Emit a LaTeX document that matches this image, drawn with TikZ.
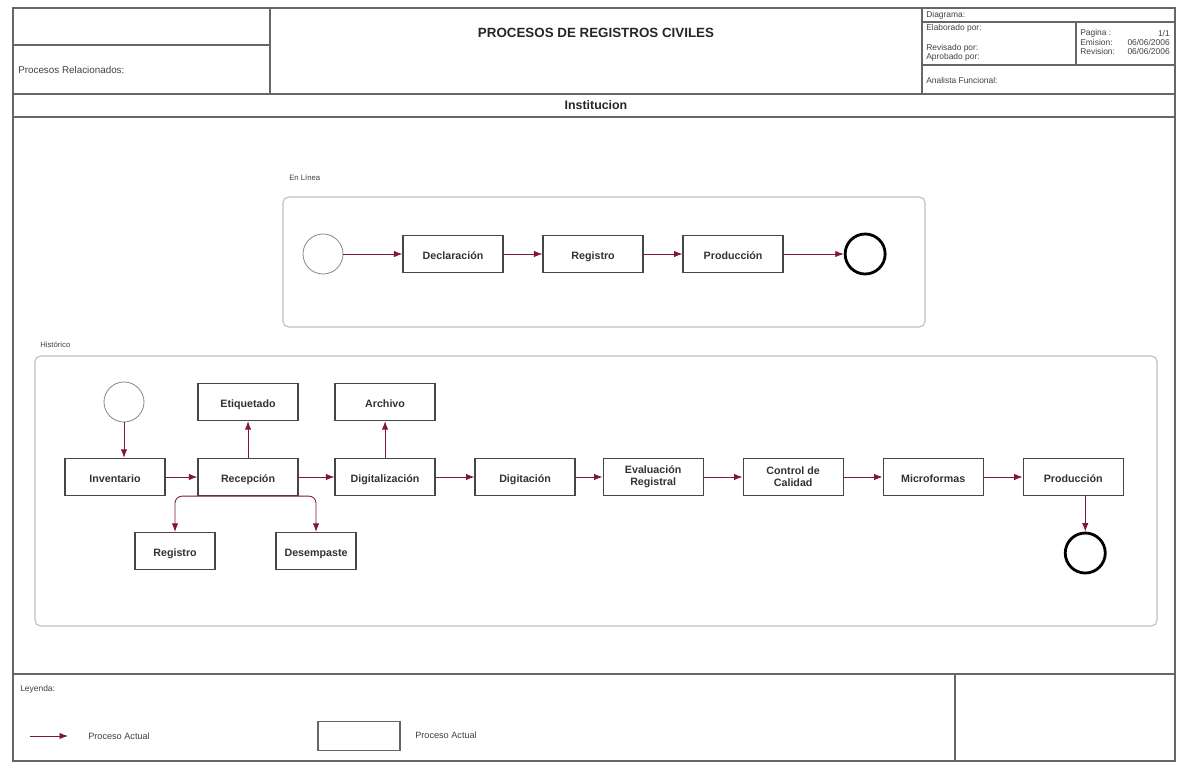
\documentclass[tikz,border=0pt]{standalone}
\usepackage{fontspec}
\setmainfont{Liberation Sans}
\usetikzlibrary{shapes.geometric, arrows, arrows.meta}
\definecolor{flowred}{RGB}{128,24,52}
\definecolor{boxgray}{RGB}{70,70,70}
\tikzstyle{process2} = [rectangle, minimum width=2.5cm, minimum height=0.925cm, text centered, align=center, draw=boxgray, line width=0.9pt, fill=white, font=\fontsize{7.6}{8.6}\selectfont\bfseries, text=black!80]
\tikzstyle{process} = [process2, text height=1.6ex, text depth=0.22ex]
\tikzstyle{startevent} = [circle, minimum size=1cm, draw=black!45, line width=0.6pt, fill=white]
\tikzstyle{endevent} = [circle, minimum size=1cm, draw=black, line width=2pt, fill=white]
\tikzstyle{lane} = [rounded corners=4pt, draw=black!25, line width=0.8pt]
\tikzstyle{frameline} = [draw=black!60, line width=0.9pt]
\tikzstyle{smalltext} = [font=\fontsize{6}{7}\selectfont, text=black!75, inner sep=0pt]
\tikzstyle{headtitle} = [font=\fontsize{9.5}{11}\selectfont\bfseries, text=black!85, inner sep=0pt]
\tikzstyle{arrow} = [-{Latex[length=6pt,width=4.5pt]}, draw=flowred, line width=0.6pt]

\begin{document}
\begin{tikzpicture}[x=0.025cm, y=-0.025cm, node distance=3.5cm]
\useasboundingbox (0,0) rectangle (1177,763);
% frame
\draw[frameline] (13,8) rectangle (1175,761);
\draw[frameline] (13,45) -- (270,45);
\draw[frameline] (270,8) -- (270,94);
\draw[frameline] (922,8) -- (922,94);
\draw[frameline] (922,22) -- (1175,22);
\draw[frameline] (922,65) -- (1175,65);
\draw[frameline] (1076,22) -- (1076,65);
\draw[frameline] (13,94) -- (1175,94);
\draw[frameline] (13,117) -- (1175,117);
\draw[frameline] (13,674) -- (1175,674);
\draw[frameline] (955,674) -- (955,761);
% header texts
\node (title) [headtitle] at (596,33) {PROCESOS DE REGISTROS CIVILES};
\node (inst) [headtitle, font=\fontsize{8.8}{10}\selectfont\bfseries] at (596,105) {Institucion};
\node (rel) [smalltext, font=\fontsize{7}{8}\selectfont, anchor=west] at (18,70) {Procesos Relacionados:};
\node (diag) [smalltext, anchor=west] at (926,15) {Diagrama:};
\node (elab) [smalltext, anchor=west] at (926,28) {Elaborado por:};
\node (rev) [smalltext, anchor=west] at (926,48) {Revisado por:};
\node (apr) [smalltext, anchor=west] at (926,57) {Aprobado por:};
\node (pag) [smalltext, anchor=west] at (1080,33) {Pagina :};
\node (emi) [smalltext, anchor=west] at (1080,42) {Emision:};
\node (rvs) [smalltext, anchor=west] at (1080,51) {Revision:};
\node (pagv) [smalltext, anchor=east] at (1170,33) {1/1};
\node (emiv) [smalltext, anchor=east] at (1170,42) {06/06/2006};
\node (rvsv) [smalltext, anchor=east] at (1170,51) {06/06/2006};
\node (ana) [smalltext, anchor=west] at (926,80) {Analista Funcional:};

% lanes
\node (lbl1) [smalltext, font=\fontsize{5.5}{6}\selectfont, anchor=west] at (289,178) {En Línea};
\draw[lane] (283,197) rectangle (925,327);
\node (lbl2) [smalltext, font=\fontsize{5.5}{6}\selectfont, anchor=west] at (40,345) {Histórico};
\draw[lane] (35,356) rectangle (1157,626);

% en linea
\node (s1) [startevent] at (323,254) {};
\node (decl) [process, right of=s1, xshift=-0.25cm] {Declaración};
\node (reg1) [process, right of=decl] {Registro};
\node (prod1) [process, right of=reg1] {Producción};
\node (e1) [endevent, right of=prod1, xshift=-0.2cm] {};
\draw [arrow] (s1) -- (decl);
\draw [arrow] (decl) -- (reg1);
\draw [arrow] (reg1) -- (prod1);
\draw [arrow] (prod1) -- (e1);

% historico
\node (inv) [process] at (115,477) {Inventario};
\node (s2) [startevent, above of=inv, yshift=-1.625cm, xshift=0.225cm] {};
\node (rec) [process, right of=inv, xshift=-0.175cm] {Recepción};
\node (etiq) [process, above of=rec, yshift=-1.625cm] {Etiquetado};
\node (reg2) [process, below of=rec, yshift=1.65cm, xshift=-1.825cm, minimum width=2cm] {Registro};
\node (desemp) [process, below of=rec, yshift=1.65cm, xshift=1.7cm, minimum width=2cm] {Desempaste};
\node (dig) [process, right of=rec, xshift=-0.075cm] {Digitalización};
\node (arch) [process, above of=dig, yshift=-1.625cm] {Archivo};
\node (digt) [process, right of=dig] {Digitación};
\node (eval) [process2, right of=digt, xshift=-0.3cm] {Evaluación\\Registral};
\node (ctrl) [process2, right of=eval] {Control de\\Calidad};
\node (micro) [process, right of=ctrl] {Microformas};
\node (prod2) [process, right of=micro] {Producción};
\node (e2) [endevent, below of=prod2, yshift=1.6cm, xshift=0.3cm] {};
\draw [arrow] (s2) -- (s2 |- inv.north);
\draw [arrow] (inv) -- (rec);
\draw [arrow] (rec) -- (etiq);
\draw [arrow, rounded corners=5pt] (rec.south) -| (reg2.north);
\draw [arrow, rounded corners=5pt] (rec.south) -| (desemp.north);
\draw [arrow] (rec) -- (dig);
\draw [arrow] (dig) -- (arch);
\draw [arrow] (dig) -- (digt);
\draw [arrow] (digt) -- (eval);
\draw [arrow] (eval) -- (ctrl);
\draw [arrow] (ctrl) -- (micro);
\draw [arrow] (micro) -- (prod2);
\draw [arrow] (prod2.south -| e2) -- (e2);

% leyenda
\node (ley) [smalltext, anchor=west] at (20,689) {Leyenda:};
\coordinate (legA) at (30,736);
\coordinate (legB) at (68,736);
\draw [arrow] (legA) -- (legB);
\node (legt1) [smalltext, anchor=west, font=\fontsize{6.5}{7}\selectfont] at (88,736) {Proceso Actual};
\node (legbox) [rectangle, draw=black!60, line width=0.8pt, minimum width=2.05cm, minimum height=0.725cm] at (359,736) {};
\node (legt2) [smalltext, anchor=west, font=\fontsize{6.5}{7}\selectfont] at (415,735) {Proceso Actual};
\end{tikzpicture}
\end{document}
